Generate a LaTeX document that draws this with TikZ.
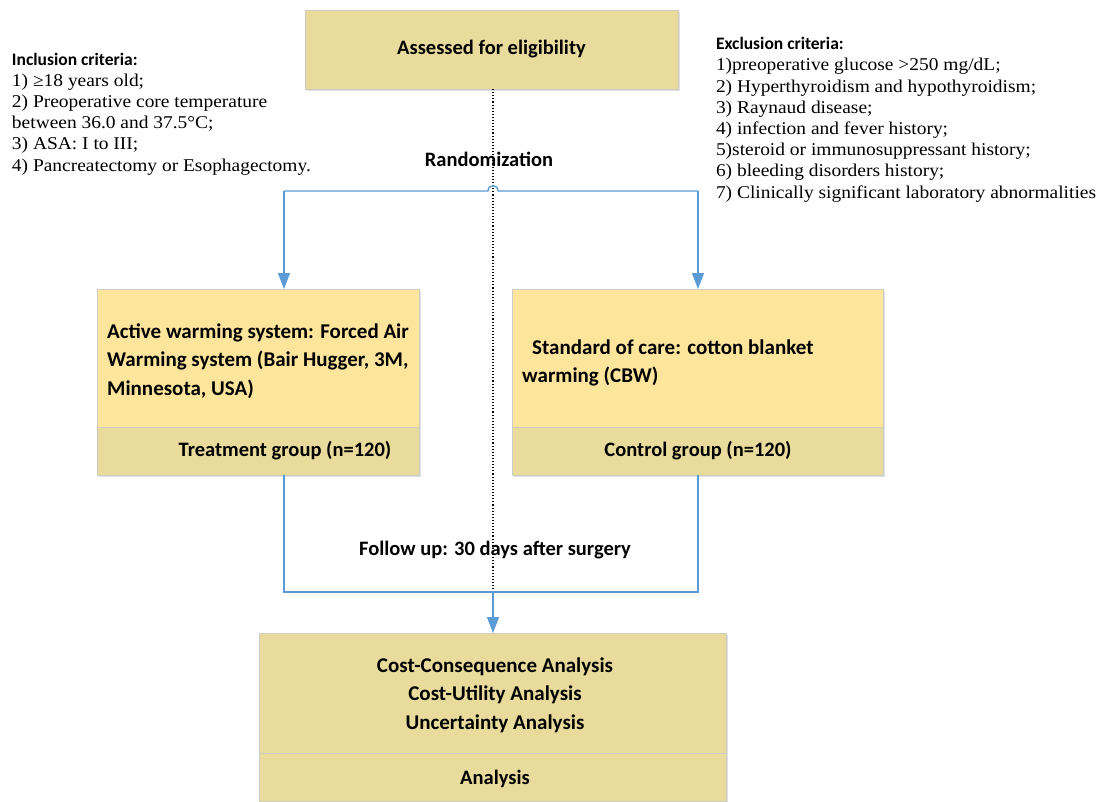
\documentclass[tikz,border=0pt]{standalone}
\usepackage{fontspec}
\setmainfont{Carlito}
\newfontfamily\critfont[FakeStretch=1.08]{Liberation Serif}
\newfontfamily\hdrfont{Carlito}
\usetikzlibrary{arrows.meta,shadows}
\definecolor{khaki}{RGB}{232,219,155}
\definecolor{lightyel}{RGB}{254,229,156}
\definecolor{boxborder}{RGB}{205,205,200}
\definecolor{connblue}{RGB}{91,155,213}
\begin{document}
\begin{tikzpicture}[x=1pt,y=-1pt,
  box/.style={draw=boxborder, line width=1pt, inner sep=0pt, outer sep=0pt, anchor=north west,
    drop shadow={shadow xshift=1.5pt, shadow yshift=-1.5pt, opacity=0.25, fill=gray}},
  yelbox/.style={box, fill=lightyel},
  khabox/.style={box, fill=khaki},
  bigtxt/.style={font=\bfseries\fontsize{21}{28.5}\selectfont},
  midtxt/.style={font=\bfseries\fontsize{20.5}{24}\selectfont},
  conn/.style={draw=connblue, line width=1.3pt},
  arr/.style={conn, -{Triangle[width=12pt,length=16pt]}},
  crit/.style={inner sep=0pt, outer sep=0pt, anchor=base west, align=left,
    font=\critfont\fontsize{18}{21.2}\selectfont}
]
\useasboundingbox[fill=white] (0,0) rectangle (1100,801);

% boxes
\node[khabox, minimum width=373pt, minimum height=79pt, midtxt] (assess) at (305,10) {Assessed for eligibility};

\node[yelbox, minimum width=322pt, minimum height=138pt] (treatTop) at (97,289) {};
\node[bigtxt, align=left, anchor=west, inner sep=0pt] (treatTxt) at ([xshift=10pt,yshift=-3pt]treatTop.west)
  {Active warming system: Forced Air\\Warming system (Bair Hugger, 3M,\\Minnesota, USA)};
\node[khabox, minimum width=322pt, minimum height=48pt] (treatBot) at (97,427) {};
\node[midtxt, inner sep=0pt] (treatLbl) at (285,451) {Treatment group (n=120)};

\node[yelbox, minimum width=371pt, minimum height=138pt] (ctrlTop) at (512,289) {};
\node[bigtxt, align=left, anchor=west, inner sep=0pt] (ctrlTxt) at ([xshift=10pt,yshift=-5pt]ctrlTop.west)
  {\hspace*{10pt}Standard of care: cotton blanket\\warming (CBW)};
\node[khabox, minimum width=371pt, minimum height=48pt] (ctrlBot) at (512,427) {};
\node[midtxt, inner sep=0pt] (ctrlLbl) at (698,451) {Control group (n=120)};

\node[khabox, minimum width=467pt, minimum height=120pt] (anaTop) at (259.5,633) {};
\node[bigtxt, align=center, inner sep=0pt] (anaTxt) at (495,695)
  {Cost-Consequence Analysis\\Cost-Utility Analysis\\Uncertainty Analysis};
\node[khabox, minimum width=467pt, minimum height=48pt] (anaBot) at (259.5,753) {};
\node[midtxt, inner sep=0pt] (anaLbl) at (495,779) {Analysis};

% labels
\node[midtxt, inner sep=0pt] (rand) at (489,159) {Randomization};
\node[midtxt, inner sep=0pt] (follow) at (495,550) {Follow up: 30 days after surgery};

% criteria (base anchor = baseline of last line)
\node[crit] (incl) at (12,171) {{\hdrfont\bfseries\fontsize{17.5}{18}\selectfont Inclusion criteria:}\\
1) ≥18 years old;\\
2) Preoperative core temperature\\
between 36.0 and 37.5°C;\\
3) ASA: I to III;\\
4) Pancreatectomy or Esophagectomy.};
\node[crit] (excl) at (716,198) {{\hdrfont\bfseries\fontsize{17.5}{18}\selectfont Exclusion criteria:}\\
1)preoperative glucose >250 mg/dL;\\
2) Hyperthyroidism and hypothyroidism;\\
3) Raynaud disease;\\
4) infection and fever history;\\
5)steroid or immunosuppressant history;\\
6) bleeding disorders history;\\
7) Clinically significant laboratory abnormalities};

% connectors
\coordinate (rl) at (284,191);
\coordinate (rr) at (698,191);
\coordinate (hopL) at (488,191);
\coordinate (hopR) at (498,191);
\coordinate (fl) at (284,592);
\coordinate (fr) at (698,592);
\coordinate (fm) at (493,592);

\draw[dotted, line width=1.1pt] (assess.south -| fm) -- (fm);

\draw[conn] (rl) -- (hopL) .. controls (488,184) and (498,184) .. (hopR) -- (rr);
\draw[arr] (rl) -- (rl |- treatTop.north);
\draw[arr] (rr) -- (rr |- ctrlTop.north);
\draw[conn] (treatBot.south -| fl) -- (fl) -- (fr) -- (ctrlBot.south -| fr);
\draw[arr] (fm) -- (fm |- anaTop.north);
\end{tikzpicture}
\end{document}
